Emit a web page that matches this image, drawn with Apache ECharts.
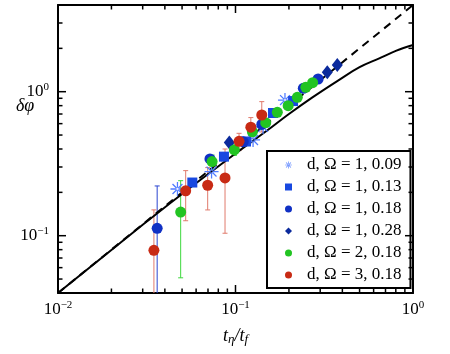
<!DOCTYPE html>
<html>
<head>
<meta charset="utf-8">
<script src="https://cdn.jsdelivr.net/npm/echarts@6/dist/echarts.min.js"></script>
<style>
  html, body { margin: 0; padding: 0; background: #fff; }
  #chart { width: 450px; height: 354px; }
</style>
</head>
<body>
<div id="chart"></div>
<script>
// axis ranges
const xMin = 0.01, xMax = 1
const yMin = 0.04, yMax = 4
const xMajorTicks = [0.01, 0.1, 1]
const yMajorTicks = [0.1, 1]
const xMinorTicks = [0.02, 0.03, 0.04, 0.05, 0.06, 0.07, 0.08, 0.09, 0.2, 0.3, 0.4, 0.5, 0.6, 0.7, 0.8, 0.9]
const yMinorTicks = [0.05, 0.06, 0.07, 0.08, 0.09, 0.2, 0.3, 0.4, 0.5, 0.6, 0.7, 0.8, 0.9, 2, 3]

// curves
const dashX = [0.01, 1]
const dashY = [0.04, 4]
const fitX = [0.01, 0.03, 0.05, 0.1, 0.15, 0.2, 0.27, 0.38, 0.5, 0.65, 0.8, 1.0]
const fitY = [0.04, 0.119, 0.195, 0.372, 0.535, 0.70, 0.91, 1.20, 1.48, 1.71, 1.92, 2.11]

// d, Ω = 1, 0.09
const astX = [0.0471, 0.0733, 0.1256, 0.143, 0.190]
const astY = [0.211, 0.279, 0.462, 0.569, 0.875]
// d, Ω = 1, 0.13
const sqX = [0.0571, 0.0861, 0.1146, 0.1626, 0.211]
const sqY = [0.234, 0.354, 0.451, 0.711, 0.861]
// d, Ω = 1, 0.18
const bcX = [0.0362, 0.0718, 0.1106, 0.1406, 0.241, 0.292]
const bcY = [0.1125, 0.341, 0.450, 0.593, 1.056, 1.225]
const bcErr = [0.109, 0, 0, 0, 0, 0]
// d, Ω = 1, 0.28
const dmX = [0.0923, 0.329, 0.3746]
const dmY = [0.443, 1.364, 1.53]
// d, Ω = 2, 0.18
const grX = [0.0491, 0.0738, 0.0985, 0.1245, 0.148, 0.172, 0.198, 0.223, 0.249, 0.272]
const grY = [0.146, 0.327, 0.394, 0.527, 0.609, 0.719, 0.800, 0.914, 1.072, 1.155]
const grErr = [0.095, 0.036, 0.033, 0, 0, 0, 0, 0, 0, 0]
// d, Ω = 3, 0.18
const rdX = [0.0347, 0.0524, 0.0697, 0.0873, 0.1047, 0.122, 0.1406]
const rdY = [0.0791, 0.205, 0.224, 0.252, 0.452, 0.567, 0.689]
const rdErr = [0.072, 0.078, 0.073, 0.148, 0.062, 0.094, 0.164]

const names = ['d, Ω = 1, 0.09', 'd, Ω = 1, 0.13', 'd, Ω = 1, 0.18', 'd, Ω = 1, 0.28', 'd, Ω = 2, 0.18', 'd, Ω = 3, 0.18']

const SERIF = '"Liberation Serif", "DejaVu Serif", serif'
const TICK = '#000'
const asterisk = 'path://M-1 -0.09L1 -0.09L1 0.09L-1 0.09Z M-0.09 -1L0.09 -1L0.09 1L-0.09 1Z ' +
  'M-0.77 -0.64L0.64 0.77L0.77 0.64L-0.64 -0.77Z M-0.64 0.77L0.77 -0.64L0.64 -0.77L-0.77 0.64Z'

const zip = (xs, ys) => xs.map((x, i) => [x, ys[i]])
const zip3 = (xs, ys, es) => xs.map((x, i) => [x, ys[i], es[i]]).filter(d => d[2] > 0)

function powLabel(v) {
  const l = Math.log10(v)
  const e = Math.round(l)
  if (Math.abs(l - e) > 1e-6) return ''
  return '{b|10}{s|' + (e < 0 ? '−' + (-e) : e) + '}'
}
const labelRich = {
  b: { fontFamily: SERIF, fontSize: 17, color: '#000' },
  s: { fontFamily: SERIF, fontSize: 11, color: '#000', padding: [0, 0, 9, 0] }
}

function errBars(color) {
  return function (params, api) {
    const x = api.value(0), y = api.value(1), e = api.value(2)
    const top = api.coord([x, y + e])
    const lowClipped = y - e <= yMin
    const bot = api.coord([x, lowClipped ? yMin : y - e])
    const st = { stroke: color, lineWidth: 1 }
    const kids = [
      { type: 'line', shape: { x1: top[0], y1: top[1], x2: bot[0], y2: bot[1] }, style: st },
      { type: 'line', shape: { x1: top[0] - 2.5, y1: top[1], x2: top[0] + 2.5, y2: top[1] }, style: st }
    ]
    if (!lowClipped) kids.push({ type: 'line', shape: { x1: bot[0] - 2.5, y1: bot[1], x2: bot[0] + 2.5, y2: bot[1] }, style: st })
    return { type: 'group', children: kids }
  }
}

// tick marks drawn as thin rect symbols placed on the axis edges through the log scales
function tickSeries(data, len, horizontal, side) {
  const size = horizontal ? [len, 1.5] : [1.5, len]
  const off = { bottom: [0, -len / 2], top: [0, len / 2], left: [len / 2, 0], right: [-len / 2, 0] }[side]
  return {
    type: 'scatter', data: data, symbol: 'rect', symbolSize: size, symbolOffset: off,
    itemStyle: { color: TICK, opacity: 1 }, clip: false, z: 6
  }
}

const axisCommon = {
  type: 'log', logBase: 10,
  axisLine: { show: true, onZero: false, lineStyle: { color: '#000', width: 2 } },
  axisTick: { show: false },
  splitLine: { show: false },
  minorTick: { show: false }
}

const chart = echarts.init(document.getElementById('chart'), null, { renderer: 'canvas' })
chart.setOption({
  animation: false,
  backgroundColor: '#fff',
  grid: { left: 58, right: 37, top: 5, bottom: 61 },
  xAxis: [
    Object.assign({}, axisCommon, {
      position: 'bottom', min: xMin, max: xMax,
      axisLabel: { formatter: powLabel, rich: labelRich, margin: 7 },
      name: '{i|t}{sb|η}{i|/t}{sb|f}', nameLocation: 'middle', nameGap: 33,
      nameTextStyle: { rich: {
        i: { fontFamily: SERIF, fontStyle: 'italic', fontSize: 18, color: '#000' },
        sb: { fontFamily: SERIF, fontStyle: 'italic', fontSize: 13, color: '#000', padding: [7, 0, 0, 0] }
      } }
    }),
    Object.assign({}, axisCommon, { position: 'top', min: xMin, max: xMax, axisLabel: { show: false } })
  ],
  yAxis: [
    Object.assign({}, axisCommon, {
      position: 'left', min: yMin, max: yMax,
      axisLabel: { formatter: powLabel, rich: labelRich, margin: 9 }
    }),
    Object.assign({}, axisCommon, { position: 'right', min: yMin, max: yMax, axisLabel: { show: false } })
  ],
  legend: {
    data: names, orient: 'vertical', left: 267, top: 151,
    backgroundColor: '#fff', borderColor: '#000', borderWidth: 2, borderRadius: 0,
    padding: [3, 9, 2, 18], itemGap: 0, itemWidth: 7, itemHeight: 7,
    textStyle: { fontFamily: SERIF, fontSize: 17, color: '#000', lineHeight: 22, padding: [0, 0, 0, 10] }
  },
  graphic: [{
    type: 'text', left: 16, top: 97,
    style: { text: 'δφ', font: 'italic 18px "Liberation Serif", serif', fill: '#000' }
  }],
  series: [
    tickSeries(xMajorTicks.map(v => [v, yMin]), 8, false, 'bottom'),
    tickSeries(xMajorTicks.map(v => [v, yMax]), 8, false, 'top'),
    tickSeries(xMinorTicks.map(v => [v, yMin]), 4.5, false, 'bottom'),
    tickSeries(xMinorTicks.map(v => [v, yMax]), 4.5, false, 'top'),
    tickSeries(yMajorTicks.map(v => [xMin, v]), 8, true, 'left'),
    tickSeries(yMajorTicks.map(v => [xMax, v]), 8, true, 'right'),
    tickSeries(yMinorTicks.map(v => [xMin, v]), 4.5, true, 'left'),
    tickSeries(yMinorTicks.map(v => [xMax, v]), 4.5, true, 'right'),
    { type: 'custom', renderItem: errBars('#2a45d0'), data: zip3(bcX, bcY, bcErr), encode: { x: 0, y: 1 }, z: 1, clip: true },
    { type: 'custom', renderItem: errBars('#3ed83e'), data: zip3(grX, grY, grErr), encode: { x: 0, y: 1 }, z: 1, clip: true },
    { type: 'custom', renderItem: errBars('#e07a6c'), data: zip3(rdX, rdY, rdErr), encode: { x: 0, y: 1 }, z: 1, clip: true },
    { type: 'line', data: zip(dashX, dashY), showSymbol: false, z: 2,
      lineStyle: { color: '#000', width: 2, type: [8, 6] } },
    { type: 'line', data: zip(fitX, fitY), showSymbol: false, smooth: 0.4, z: 2,
      lineStyle: { color: '#000', width: 2 } },
    { name: names[0], type: 'scatter', data: zip(astX, astY), symbol: asterisk, symbolSize: 14, z: 3,
      itemStyle: { color: '#4f7bff', opacity: 1 } },
    { name: names[1], type: 'scatter', data: zip(sqX, sqY), symbol: 'rect', symbolSize: 10, z: 3,
      itemStyle: { color: '#1848e0', opacity: 1 } },
    { name: names[2], type: 'scatter', data: zip(bcX, bcY), symbol: 'circle', symbolSize: 11, z: 3,
      itemStyle: { color: '#1030c4', opacity: 1 } },
    { name: names[3], type: 'scatter', data: zip(dmX, dmY), symbol: 'diamond', symbolSize: [11, 14], z: 3,
      itemStyle: { color: '#0b2a9c', opacity: 1 } },
    { name: names[4], type: 'scatter', data: zip(grX, grY), symbol: 'circle', symbolSize: 11, z: 3,
      itemStyle: { color: '#22c422', opacity: 1 } },
    { name: names[5], type: 'scatter', data: zip(rdX, rdY), symbol: 'circle', symbolSize: 11, z: 3,
      itemStyle: { color: '#c82a14', opacity: 1 } }
  ]
})
</script>
</body>
</html>
